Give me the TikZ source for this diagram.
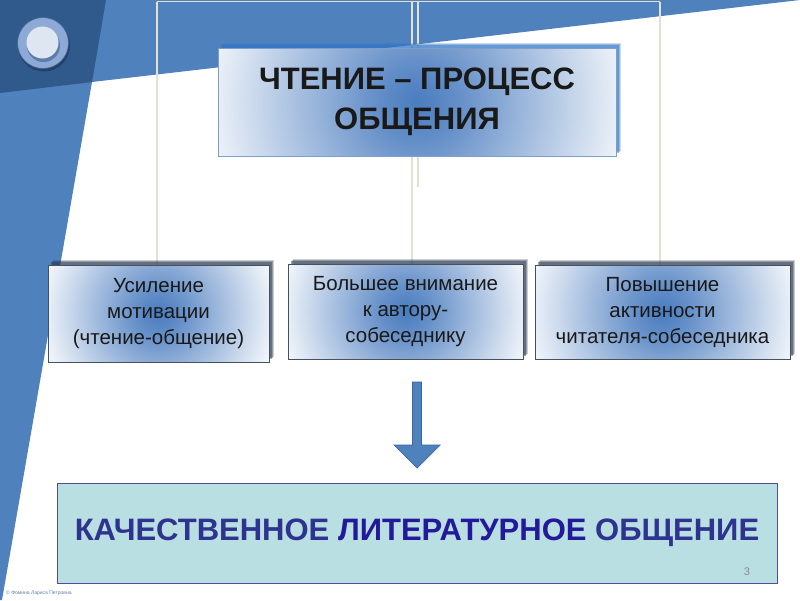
\documentclass[tikz,border=0pt]{standalone}
\usepackage{fontspec}
\usetikzlibrary{calc}
\setmainfont{Liberation Sans}
\definecolor{bgmid}{HTML}{4F81BD}
\definecolor{bgdark}{HTML}{30598C}
\definecolor{connline}{HTML}{E4E0D3}
\definecolor{boxblue}{HTML}{4A7CBF}
\definecolor{glowblue}{HTML}{2F74C6}
\definecolor{darkshadow}{HTML}{2C3B52}
\definecolor{mainborder}{HTML}{7E9EC8}
\definecolor{lowborder}{HTML}{46505F}
\definecolor{resfill}{HTML}{B9DFE3}
\definecolor{resborder}{HTML}{4D4D99}
\definecolor{restext}{HTML}{2F3390}
\definecolor{restextb}{HTML}{221A9A}
\definecolor{ringblue}{HTML}{8DA9D5}
\definecolor{innerlight}{HTML}{DEE6F1}
\definecolor{arrowfill}{HTML}{4F81BD}
\definecolor{arrowdraw}{HTML}{3B67A0}
\pgfdeclarelayer{bgshapes}
\pgfdeclarelayer{lines}
\pgfdeclarelayer{shadows}
\pgfsetlayers{bgshapes,lines,shadows,main}
\pgfdeclareradialshading{boxgrad}{\pgfpointorigin}{color(0bp)=(boxblue); color(4bp)=(boxblue!86!white); color(10bp)=(boxblue!58!white); color(17bp)=(boxblue!26!white); color(23bp)=(white); color(50bp)=(white)}
\tikzset{
  gradbox/.style={rectangle, inner sep=0pt, align=center, text=black!90, fill=white,
    path picture={\shade[shading=boxgrad] (path picture bounding box.center) circle (#1);}},
  mainbox/.style={gradbox=249pt, draw=mainborder, line width=0.8pt,
    minimum width=398pt, minimum height=108pt,
    font=\fontsize{31}{40}\selectfont\bfseries},
  lowbox/.style={draw=lowborder, line width=0.8pt,
    font=\fontsize{20.5}{26}\selectfont},
  conn/.style={draw=connline, line width=1.6pt},
  resbox/.style={rectangle, fill=resfill, draw=resborder, line width=0.9pt,
    minimum width=720pt, minimum height=100pt, inner sep=0pt,
    font=\fontsize{31}{36}\selectfont\bfseries, text=restext},
}
\begin{document}
\begin{tikzpicture}[x=1pt,y=-1pt]
\begin{pgfonlayer}{bgshapes}
\fill[white] (0,0) rectangle (800,600);
% background shapes
\fill[bgmid] (0,0) -- (800,0) -- (92,82) -- (2,600) -- (0,600) -- cycle;
\fill[bgdark] (0,0) -- (106,0) -- (92,82) -- (0,93) -- cycle;
% decorative circle
\fill[black,opacity=0.25] (44,45.5) circle (26);
\fill[ringblue] (43,43) circle (25.5);
\draw[bgmid!80!black,line width=0.6pt] (43,43) circle (25.5);
\fill[bgmid!70!black,opacity=0.55] (43.5,45.5) circle (16.5);
\fill[innerlight] (42.5,42.5) circle (16);
\end{pgfonlayer}
\useasboundingbox (0,0) rectangle (800,600);
% main box
\node[mainbox] (main) at (417,102) {ЧТЕНИЕ – ПРОЦЕСС\\ОБЩЕНИЯ};
% lower boxes
\node[gradbox=138pt, lowbox, minimum width=221pt, minimum height=97pt] (b1) at (158.5,313.5)
  {Усиление\\мотивации\\(чтение-общение)};
\node[gradbox=147pt, lowbox, minimum width=235pt, minimum height=95pt] (b2) at (405.5,311.5)
  {Большее внимание\\к автору-\\собеседнику};
\node[gradbox=159pt, lowbox, minimum width=255pt, minimum height=94pt] (b3) at (662.5,312)
  {Повышение\\активности\\читателя-собеседника};
% shadows
\begin{pgfonlayer}{shadows}
\foreach \o/\a in {5/0.25,4/0.35,3/0.45} {
  \fill[glowblue,opacity=\a] ($(main.south west)+(\o,-\o)$) rectangle ($(main.north east)+(\o,-\o)$);
  \fill[darkshadow,opacity=\a] ($(b1.south west)+(\o,-\o)$) rectangle ($(b1.north east)+(\o,-\o)$);
  \fill[darkshadow,opacity=\a] ($(b2.south west)+(\o,-\o)$) rectangle ($(b2.north east)+(\o,-\o)$);
  \fill[darkshadow,opacity=\a] ($(b3.south west)+(\o,-\o)$) rectangle ($(b3.north east)+(\o,-\o)$);
}
\end{pgfonlayer}
% connector lines
\begin{pgfonlayer}{lines}
\coordinate (t1) at (157,1.5);
\coordinate (t2) at (412,1.5);
\coordinate (t3) at (660,1.5);
\coordinate (t2b) at (418,1.5);
\coordinate (s2b) at (418,187);
\draw[conn] (t1) -- (t3);
\draw[conn] (t2b) -- (s2b);
\draw[conn] (t1) -- (t1 |- b1.north);
\draw[conn] (t2) -- (t2 |- b2.north);
\draw[conn] (t3) -- (t3 |- b3.north);
\end{pgfonlayer}
% result box
\node[resbox] (res) at (417,533) {КАЧЕСТВЕННОЕ \textcolor{restextb}{ЛИТЕРАТУРНОЕ} ОБЩЕНИЕ};
\node[font=\fontsize{11}{12}\selectfont, text=black!45, anchor=center] (pnum) at (747,572) {3};
% block arrow
\coordinate (atop) at (417,382);
\coordinate (atip) at (417,468);
\fill[arrowfill, draw=arrowdraw, line width=0.7pt]
  ($(atop)+(-4.5,0)$) -- ($(atop)+(4.5,0)$) -- (421.5,445) -- (440,445) -- (atip)
  -- (394,445) -- (412.5,445) -- cycle;
% copyright
\node[anchor=west, font=\fontsize{5}{6}\selectfont, text=bgmid!70!gray, inner sep=0pt] (copy) at (6,593) {© Фомина Лариса Петровна};
\end{tikzpicture}
\end{document}
